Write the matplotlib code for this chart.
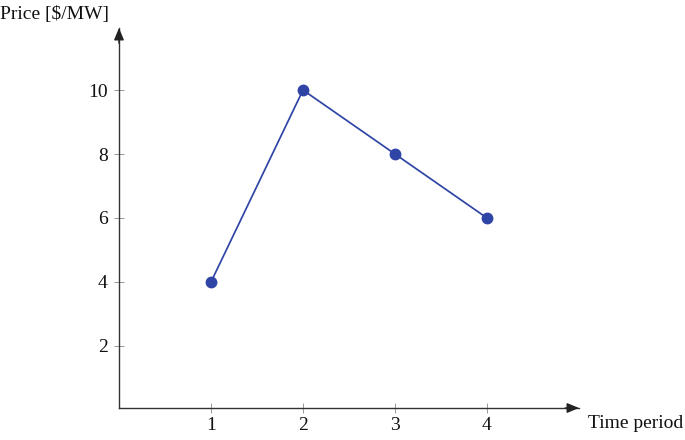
import matplotlib
matplotlib.use('Agg')
import matplotlib.pyplot as plt

periods = [1, 2, 3, 4]
prices = [4, 10, 8, 6]
xticks = [1, 2, 3, 4]
yticks = [2, 4, 6, 8, 10]

plt.rcParams['font.family'] = ['Liberation Serif', 'DejaVu Serif']
plt.rcParams['mathtext.fontset'] = 'stix'

fig = plt.figure(figsize=(6.85, 4.4), dpi=100)
ax = fig.add_axes([119/685, 32/440, 460/685, 380/440])
ax.set_xlim(0, 5)
ax.set_ylim(0.06, 11.94)

blue = '#2f45a6'
ax.plot(periods, prices, color=blue, lw=1.25, marker='o', ms=7.5,
        markeredgecolor=blue, markerfacecolor=blue)

for s in ['top', 'right']:
    ax.spines[s].set_visible(False)
for s in ['left', 'bottom']:
    ax.spines[s].set_color('#333333')
    ax.spines[s].set_linewidth(1.0)

# arrow heads at axis ends
ax.annotate('', xy=(1.0, 0), xytext=(0.97, 0), xycoords='axes fraction',
            arrowprops=dict(arrowstyle='-|>,head_length=0.6,head_width=0.25',
                            color='#222222', lw=1.0,
                            mutation_scale=12, shrinkA=0, shrinkB=0))
ax.annotate('', xy=(0, 1.0), xytext=(0, 0.96), xycoords='axes fraction',
            arrowprops=dict(arrowstyle='-|>,head_length=0.6,head_width=0.25',
                            color='#222222', lw=1.0,
                            mutation_scale=12, shrinkA=0, shrinkB=0))

ax.set_xticks(xticks)
ax.set_yticks(yticks)
ax.tick_params(direction='inout', length=6.5, width=0.6, color='#888888',
               labelsize=14, labelcolor='#111111')
ax.tick_params(axis='x', pad=3)
ax.tick_params(axis='y', pad=5)

fig.text(0.0, 1 - 15/440, 'Price [\\$/MW]', fontsize=14, color='#111111',
         ha='left', va='center')
fig.text(588/685, 1 - 423/440, 'Time period', fontsize=14, color='#111111',
         ha='left', va='center')

fig.savefig('out.png', dpi=100)
